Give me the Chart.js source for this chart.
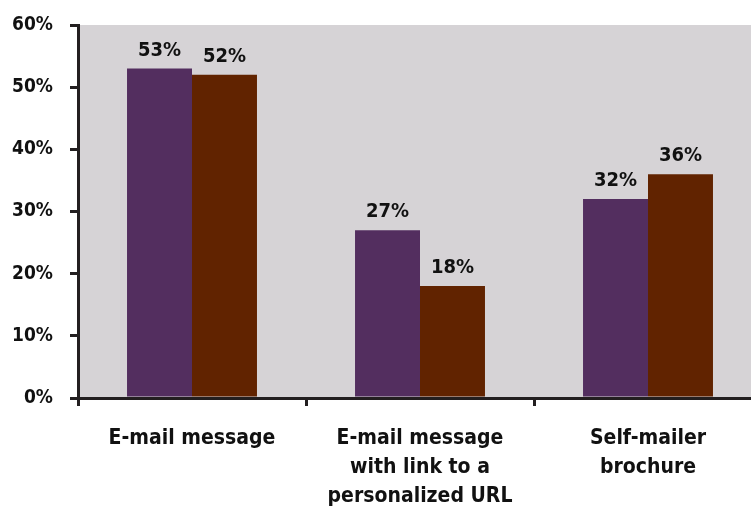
<!DOCTYPE html>
<html>
<head>
<meta charset="utf-8">
<script src="https://cdn.jsdelivr.net/npm/chart.js@4/dist/chart.umd.min.js"></script>
<style>
  html, body { margin: 0; padding: 0; background: #fff; overflow: hidden; }
  #wrap { width: 762px; height: 508px; }
</style>
</head>
<body>
<div id="wrap"><canvas id="chart"></canvas></div>
<script>
// Data
const categories = [
  ['E-mail message'],
  ['E-mail message', 'with link to a', 'personalized URL'],
  ['Self-mailer', 'brochure']
];
const seriesA = [53, 27, 32];
const seriesB = [52, 18, 36];
const yTicks = [0, 10, 20, 30, 40, 50, 60];

const FONT = '"Liberation Sans Narrow", "DejaVu Sans Condensed", sans-serif';
const INK = '#231f20';

// Gray plot area background
const plotBg = {
  id: 'plotBg',
  beforeDraw(chart) {
    const { ctx, chartArea: a } = chart;
    ctx.save();
    ctx.fillStyle = '#d6d3d6';
    ctx.fillRect(a.left, a.top, a.right - a.left, a.bottom - a.top);
    ctx.restore();
  }
};

// Value labels above bars
const valueLabels = {
  id: 'valueLabels',
  afterDatasetsDraw(chart) {
    const { ctx } = chart;
    ctx.save();
    ctx.font = 'bold 20px ' + FONT;
    ctx.fillStyle = '#111';
    ctx.textAlign = 'center';
    ctx.textBaseline = 'bottom';
    chart.data.datasets.forEach((ds, i) => {
      chart.getDatasetMeta(i).data.forEach((bar, j) => {
        ctx.fillText(ds.data[j] + '%', bar.x, bar.y - 8);
      });
    });
    ctx.restore();
  }
};

new Chart(document.getElementById('chart'), {
  type: 'bar',
  data: {
    labels: categories,
    datasets: [
      { label: 'Series 1', data: seriesA, backgroundColor: '#532e5f', borderWidth: 0 },
      { label: 'Series 2', data: seriesB, backgroundColor: '#612300', borderWidth: 0 }
    ]
  },
  options: {
    responsive: true,
    maintainAspectRatio: false,
    animation: false,
    layout: { padding: { top: 25, right: 0, left: 0, bottom: 0 } },
    categoryPercentage: 0.57,
    barPercentage: 1,
    plugins: {
      legend: { display: false },
      tooltip: { enabled: false }
    },
    scales: {
      x: {
        grid: { offset: true, drawOnChartArea: false, drawTicks: true, tickLength: 8, color: INK, lineWidth: 3 },
        border: { display: true, color: INK, width: 3 },
        ticks: {
          color: '#111',
          font: { family: FONT, size: 21, weight: 'bold', lineHeight: 1.38 },
          padding: 18,
          maxRotation: 0,
          autoSkip: false
        },
        afterFit(scale) { scale.height = 110; scale.paddingLeft = 0; scale.paddingRight = 0; }
      },
      y: {
        min: 0,
        max: 60,
        afterBuildTicks(scale) { scale.ticks = yTicks.map(v => ({ value: v })); },
        grid: { drawOnChartArea: false, drawTicks: true, tickLength: 8, color: INK, lineWidth: 3 },
        border: { display: true, color: INK, width: 3 },
        ticks: {
          color: '#111',
          font: { family: FONT, size: 19, weight: 'bold' },
          padding: 17,
          callback: v => v + '%'
        },
        afterFit(scale) { scale.width = 78; scale.paddingTop = 0; scale.paddingBottom = 0; }
      }
    }
  },
  plugins: [plotBg, valueLabels]
});
</script>
</body>
</html>
